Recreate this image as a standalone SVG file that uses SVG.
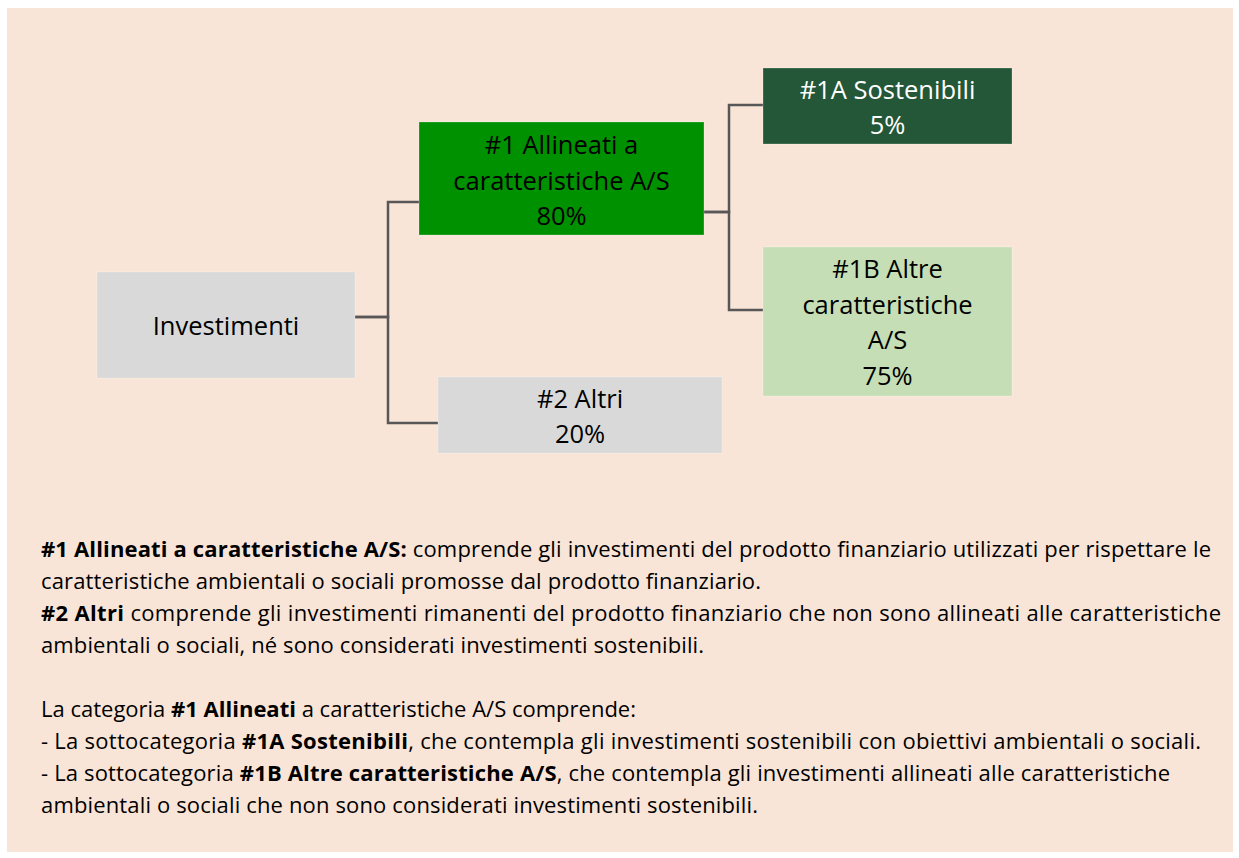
<svg xmlns="http://www.w3.org/2000/svg" width="1239" height="858" viewBox="0 0 1239 858">
  <style>
    .node { font-family: "Open Sans", "Liberation Sans", sans-serif; font-size: 25.5px; text-anchor: middle; fill: #000; }
    .white { fill: #ffffff; }
    .box { stroke: #ffffff; stroke-opacity: 0.25; stroke-width: 1; }
    .conn { fill: none; stroke: #575757; stroke-width: 2.5; }
    .para { font-family: "Open Sans", "Liberation Sans", sans-serif; font-size: 22px; fill: #000; }
    .b { font-weight: bold; }
  </style>
  <rect x="0" y="0" width="1239" height="858" fill="#ffffff"/>
  <rect x="7" y="8" width="1226" height="844" fill="#F9E5D7"/>

  <g id="connectors">
    <path class="conn" d="M355 317 H388 V202 H419"/>
    <path class="conn" d="M355 317 H388 V423 H438"/>
    <path class="conn" d="M704 212 H729 V105 H763"/>
    <path class="conn" d="M704 212 H729 V310 H763"/>
  </g>

  <g id="investimenti">
    <rect class="box" x="97" y="272" width="258" height="106" fill="#D9D9D9"/>
    <text class="node" x="226" y="335">Investimenti</text>
  </g>

  <g id="allineati">
    <rect class="box" x="419" y="122" width="285" height="113" fill="#009100"/>
    <text class="node" x="561.5" y="154">#1 Allineati a</text>
    <text class="node" x="561.5" y="189.5">caratteristiche A/S</text>
    <text class="node" x="561.5" y="225">80%</text>
  </g>

  <g id="sostenibili">
    <rect class="box" x="763" y="68" width="249" height="76" fill="#245737"/>
    <text class="node white" x="887.5" y="99">#1A Sostenibili</text>
    <text class="node white" x="887.5" y="134">5%</text>
  </g>

  <g id="altre-caratteristiche">
    <rect class="box" x="763" y="247" width="249" height="149" fill="#C5DEB5"/>
    <text class="node" x="887.5" y="278">#1B Altre</text>
    <text class="node" x="887.5" y="313.5">caratteristiche</text>
    <text class="node" x="887.5" y="349">A/S</text>
    <text class="node" x="887.5" y="384.5">75%</text>
  </g>

  <g id="altri">
    <rect class="box" x="438" y="377" width="284" height="76" fill="#D9D9D9"/>
    <text class="node" x="580" y="408">#2 Altri</text>
    <text class="node" x="580" y="443">20%</text>
  </g>

  <g id="legend">
    <text class="para" x="41" y="557" textLength="1170"><tspan class="b">#1 Allineati a caratteristiche A/S:</tspan> comprende gli investimenti del prodotto finanziario utilizzati per rispettare le</text>
    <text class="para" x="41" y="589" textLength="720">caratteristiche ambientali o sociali promosse dal prodotto finanziario.</text>
    <text class="para" x="41" y="621" textLength="1180"><tspan class="b">#2 Altri</tspan> comprende gli investimenti rimanenti del prodotto finanziario che non sono allineati alle caratteristiche</text>
    <text class="para" x="41" y="653" textLength="663">ambientali o sociali, né sono considerati investimenti sostenibili.</text>
    <text class="para" x="41" y="717" textLength="595">La categoria <tspan class="b">#1 Allineati</tspan> a caratteristiche A/S comprende:</text>
    <text class="para" x="41" y="749" textLength="1160">- La sottocategoria <tspan class="b">#1A Sostenibili</tspan>, che contempla gli investimenti sostenibili con obiettivi ambientali o sociali.</text>
    <text class="para" x="41" y="781" textLength="1129">- La sottocategoria <tspan class="b">#1B Altre caratteristiche A/S</tspan>, che contempla gli investimenti allineati alle caratteristiche</text>
    <text class="para" x="41" y="813" textLength="717">ambientali o sociali che non sono considerati investimenti sostenibili.</text>
  </g>
</svg>
